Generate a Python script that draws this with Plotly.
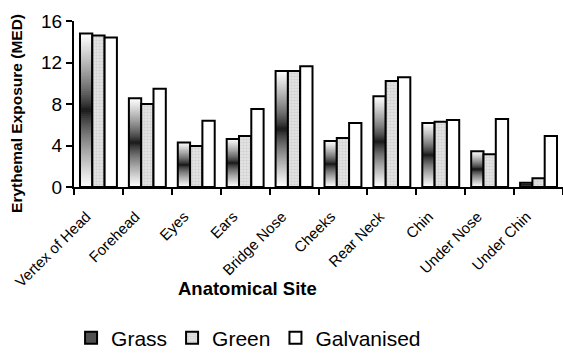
import plotly.graph_objects as go

sites = ["Vertex of Head", "Forehead", "Eyes", "Ears", "Bridge Nose", "Cheeks",
         "Rear Neck", "Chin", "Under Nose", "Under Chin"]
grass = [14.8, 8.55, 4.3, 4.63, 11.18, 4.43, 8.74, 6.17, 3.44, 0.41]
green = [14.6, 8.0, 3.95, 4.92, 11.18, 4.72, 10.22, 6.3, 3.15, 0.84]
galvanised = [14.4, 9.48, 6.39, 7.52, 11.63, 6.17, 10.57, 6.46, 6.55, 4.92]
y_ticks = [0, 4, 8, 12, 16]

FONT = "Liberation Sans, Arial, sans-serif"
fig = go.Figure()

# Grass bars: vertical gradient (light at ends, dark in middle) built from nested,
# progressively narrower and darker bars centred on each bar's midpoint
N = 40
for k in range(N):
    h = 1 - k / N
    g = int(15 + 240 * h ** 0.75)
    fig.add_trace(go.Bar(
        x=sites, y=[v * h for v in grass], base=[v * (1 - h) / 2 for v in grass],
        offsetgroup="grass", marker=dict(color=f"rgb({g},{g},{g})", line=dict(width=0)),
        showlegend=False, hoverinfo="skip"))
fig.add_trace(go.Bar(
    x=sites, y=grass, offsetgroup="grass", name="Grass",
    marker=dict(color="rgba(0,0,0,0)", line=dict(color="black", width=2)),
    showlegend=False))
# legend proxy for Grass
fig.add_trace(go.Bar(
    x=[sites[0]], y=[None], offsetgroup="grass", name="Grass",
    marker=dict(color="#505050", line=dict(color="black", width=2))))
fig.add_trace(go.Bar(
    x=sites, y=green, offsetgroup="green", name="Green",
    marker=dict(color="#dcdcdc", line=dict(color="black", width=2),
                pattern=dict(shape=".", fgcolor="#b8b8b8", bgcolor="#e4e4e4", size=3, solidity=0.4))))
fig.add_trace(go.Bar(
    x=sites, y=galvanised, offsetgroup="galv", name="Galvanised",
    marker=dict(color="white", line=dict(color="black", width=2))))

fig.update_layout(
    width=563, height=358,
    margin=dict(l=74, r=0, t=21, b=171, autoexpand=False),
    paper_bgcolor="white", plot_bgcolor="white",
    barmode="group", bargap=0.245, bargroupgap=0,
    font=dict(family=FONT, color="black"),
    legend=dict(orientation="h", x=-0.006, xanchor="left", y=-0.91, yanchor="middle",
                font=dict(size=21), itemwidth=30, traceorder="normal"),
    xaxis=dict(tickangle=-45, tickfont=dict(size=15), showline=True, linecolor="black",
               linewidth=2, ticks="outside", tickson="boundaries", ticklen=6, tickwidth=2,
               tickcolor="black", ticklabelshift=-12, ticklabelstandoff=13),
    yaxis=dict(range=[0, 16], tickvals=y_ticks, tickfont=dict(size=19), showline=True,
               linecolor="black", linewidth=2, ticks="outside", ticklen=6, tickwidth=2,
               tickcolor="black", showgrid=False, zeroline=False),
    annotations=[
        dict(text="<b>Anatomical Site</b>", xref="paper", yref="paper", x=0.3548, y=-0.614,
             xanchor="center", yanchor="middle", showarrow=False, font=dict(size=18.5)),
        dict(text="<b>Erythemal Exposure (MED)</b>", xref="paper", yref="paper", x=-0.1166,
             y=0.446, xanchor="center", yanchor="middle", textangle=-90, showarrow=False,
             font=dict(size=15.5)),
    ],
)
fig.write_html("out.html")
